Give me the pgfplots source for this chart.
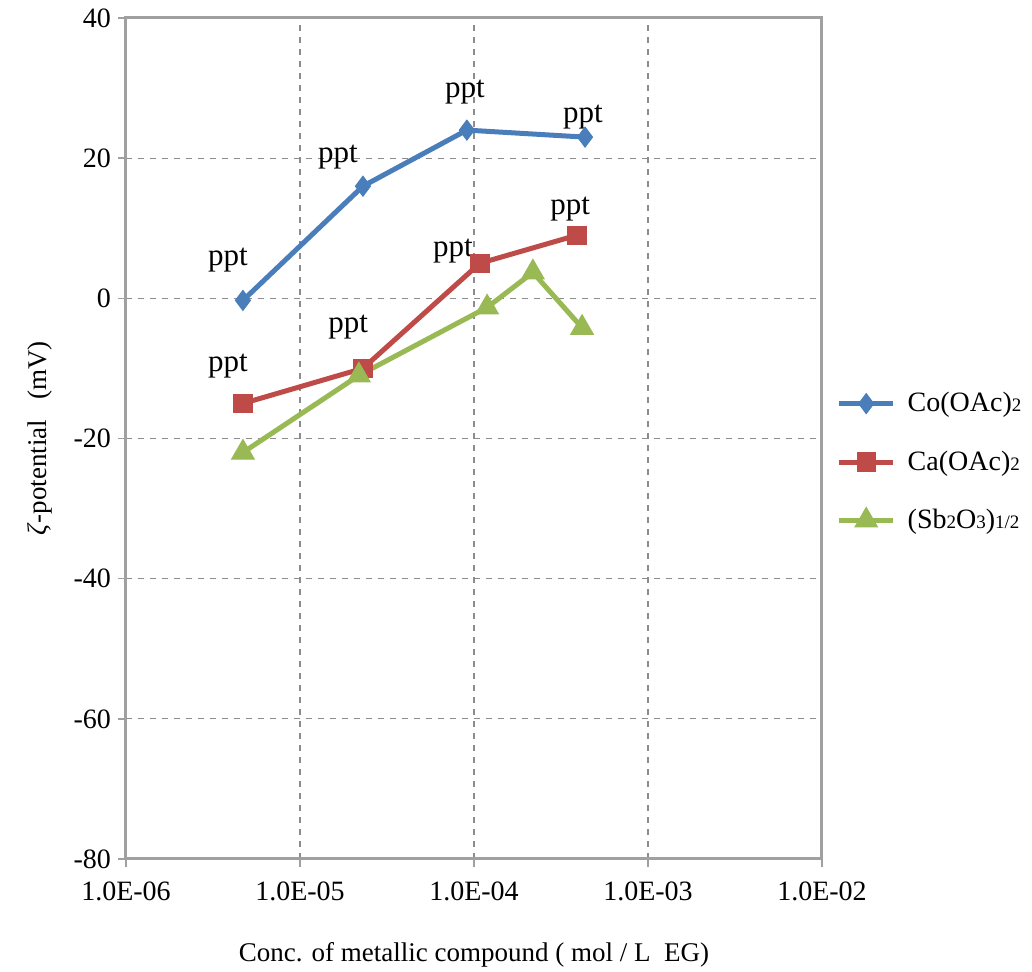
\documentclass[border=0pt]{standalone}
\usepackage{pgfplots}
\pgfplotsset{compat=1.18}
\usepackage{fontspec}
\setmainfont{Liberation Serif}
\definecolor{cob}{HTML}{4A7EBB}
\definecolor{car}{HTML}{BE4B48}
\definecolor{sbg}{HTML}{98B954}
\definecolor{axg}{HTML}{A0A0A0}
\definecolor{grd}{HTML}{8C8C8C}
\begin{document}
\begin{tikzpicture}
\begin{axis}[
  scale only axis,
  width=348pt, height=420.5pt,
  xmode=log,
  xmin=1e-6, xmax=1e-2,
  ymin=-80, ymax=40,
  xtick={1e-6,1e-5,1e-4,1e-3,1e-2},
  xticklabels={1.0E-06,1.0E-05,1.0E-04,1.0E-03,1.0E-02},
  ytick={-80,-60,-40,-20,0,20,40},
  yticklabels={-80,-60,-40,-20,0,20,40},
  minor tick num=0,
  log basis x=10,
  xminorticks=false,
  tick align=outside,
  tick pos=left,
  major tick length=4pt,
  tick style={axg, line width=0.8pt},
  axis line style={axg, line width=1.5pt},
  grid=major,
  major grid style={grd, dashed, line width=0.6pt},
  ticklabel style={font=\fontsize{14}{16}\selectfont},
  xticklabel style={yshift=-4pt},
  xlabel={Conc. of metallic compound ( mol / L\ \ EG)},
  ylabel={\textit{ζ}-potential\ \ \ (mV)},
  label style={font=\fontsize{13.5}{16}\selectfont},
  xlabel style={yshift=-14pt},
  ylabel style={yshift=4pt},
  legend style={at={(1.012,0.472)}, anchor=west, draw=none, fill=none,
    font=\fontsize{14}{16}\selectfont, row sep=14pt,
    /tikz/every odd column/.append style={column sep=4pt}},
  legend cell align=left,
  legend image code/.code={\draw[mark repeat=2,mark phase=2,#1] plot coordinates {(0pt,0pt)(13.5pt,0pt)(27pt,0pt)};},
  clip=false,
]
\addplot[cob, line width=2.5pt, mark=diamond*, mark size=5pt, mark options={solid, fill=cob, line width=0.5pt}]
  coordinates {(4.7e-6,-0.3) (2.3e-5,16) (9.1e-5,24) (4.35e-4,23)};
\addlegendentry{Co(OAc){\fontsize{9.5}{10}\selectfont 2}}
\addplot[car, line width=2.5pt, mark=square*, mark size=4.6pt, mark options={solid, fill=car, line width=0.5pt}]
  coordinates {(4.7e-6,-15) (2.3e-5,-10) (1.08e-4,5) (3.9e-4,9)};
\addlegendentry{Ca(OAc){\fontsize{9.5}{10}\selectfont 2}}
\addplot[sbg, line width=2.5pt, mark=triangle*, mark size=6.5pt, mark options={solid, fill=sbg, line width=0.5pt}]
  coordinates {(4.7e-6,-22) (2.18e-5,-11) (1.19e-4,-1.3) (2.18e-4,3.7) (4.18e-4,-4.2)};
\addlegendentry{(Sb{\fontsize{9.5}{10}\selectfont 2}O{\fontsize{9.5}{10}\selectfont 3}){\fontsize{9.5}{10}\selectfont 1/2}}
\begin{scope}[every node/.style={font=\fontsize{15.5}{17}\selectfont}]
\node at (axis cs:3.86e-6,5.4) {ppt};
\node at (axis cs:1.65e-5,20.1) {ppt};
\node at (axis cs:8.87e-5,29.4) {ppt};
\node at (axis cs:4.23e-4,25.8) {ppt};
\node at (axis cs:3.86e-6,-9.6) {ppt};
\node at (axis cs:1.89e-5,-4.1) {ppt};
\node at (axis cs:7.57e-5,6.8) {ppt};
\node at (axis cs:3.57e-4,12.8) {ppt};
\end{scope}
\end{axis}
\pgfresetboundingbox
\path (current axis.south west) ++(-63pt,-56.5pt) rectangle ++(516pt,486pt);
\end{tikzpicture}
\end{document}
